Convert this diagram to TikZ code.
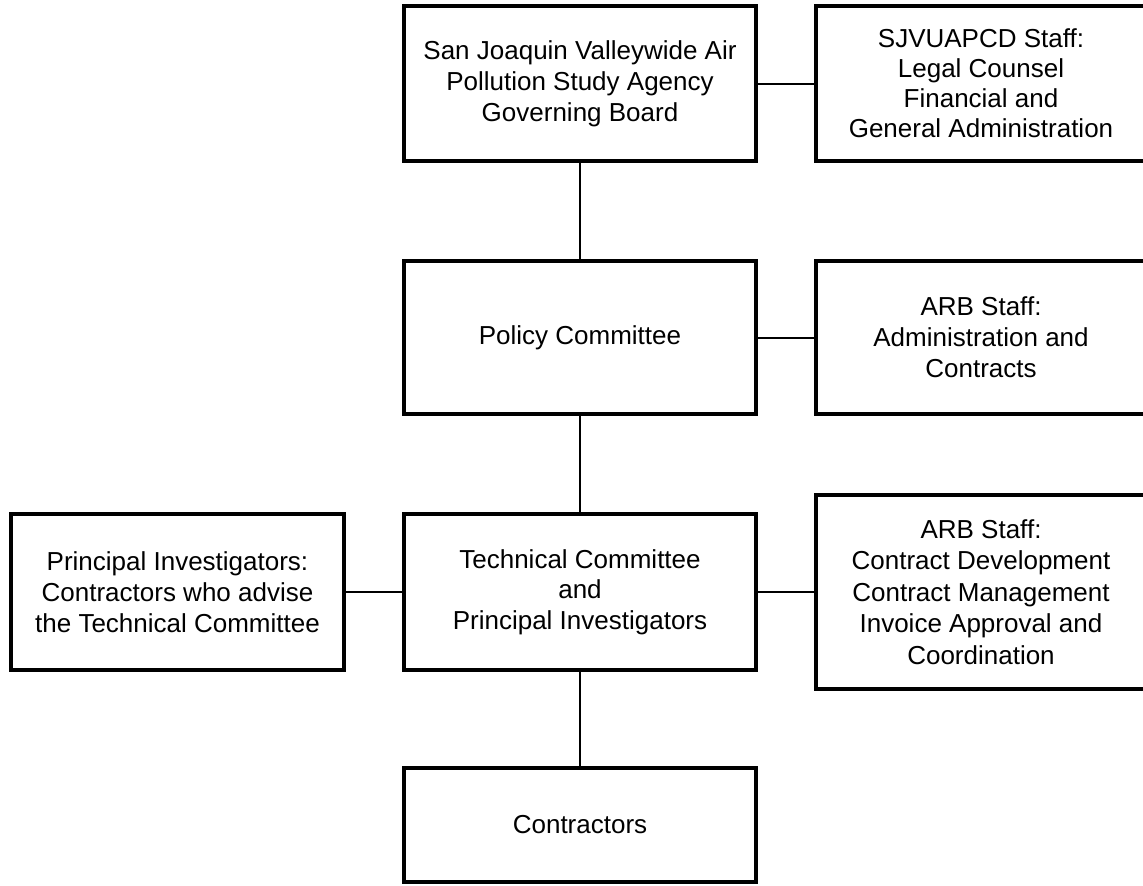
\documentclass[tikz,border=0pt]{standalone}
\usepackage{fontspec}
\setmainfont{Liberation Sans}
\begin{document}
\begin{tikzpicture}[x=1pt,y=-1pt,
  orgbox/.style={draw=black, line width=4pt, fill=white, rectangle, inner sep=0pt, outer sep=0pt, align=center, font=\fontsize{26pt}{31pt}\selectfont},
  link/.style={draw=black, line width=2pt}]
\clip (0,0) rectangle (1143,886);
\fill[white] (0,0) rectangle (1143,886);
\node[orgbox, minimum width=352pt, minimum height=155pt] (gb) at (580,83.5)
  {San Joaquin Valleywide Air\\Pollution Study Agency\\Governing Board};
\node[orgbox, minimum width=330pt, minimum height=155pt, font=\fontsize{26pt}{30pt}\selectfont] (sjv) at (981,83.5)
  {SJVUAPCD Staff:\\Legal Counsel\\Financial and\\General Administration};
\node[orgbox, minimum width=352pt, minimum height=153pt] (pol) at (580,337.5) {Policy Committee};
\node[orgbox, minimum width=330pt, minimum height=153pt] (arbA) at (981,337.5)
  {ARB Staff:\\Administration and\\Contracts};
\node[orgbox, minimum width=352pt, minimum height=156pt, font=\fontsize{26pt}{30.5pt}\selectfont] (tech) at (580,592)
  {Technical Committee\\and\\Principal Investigators};
\node[orgbox, minimum width=333pt, minimum height=156pt] (pi) at (177.5,592)
  {Principal Investigators:\\Contractors who advise\\the Technical Committee};
\node[orgbox, minimum width=330pt, minimum height=194pt, font=\fontsize{26pt}{31.5pt}\selectfont] (arbB) at (981,592)
  {ARB Staff:\\Contract Development\\Contract Management\\Invoice Approval and\\Coordination};
\node[orgbox, minimum width=352pt, minimum height=114pt] (con) at (580,825) {Contractors};
\draw[link] (gb.east) -- (sjv.west);
\draw[link] (gb.south) -- (pol.north);
\draw[link] (pol.east) -- (arbA.west);
\draw[link] (pol.south) -- (tech.north);
\draw[link] (pi.east) -- (tech.west);
\draw[link] (tech.east) -- (arbB.west);
\draw[link] (tech.south) -- (con.north);
\end{tikzpicture}
\end{document}
